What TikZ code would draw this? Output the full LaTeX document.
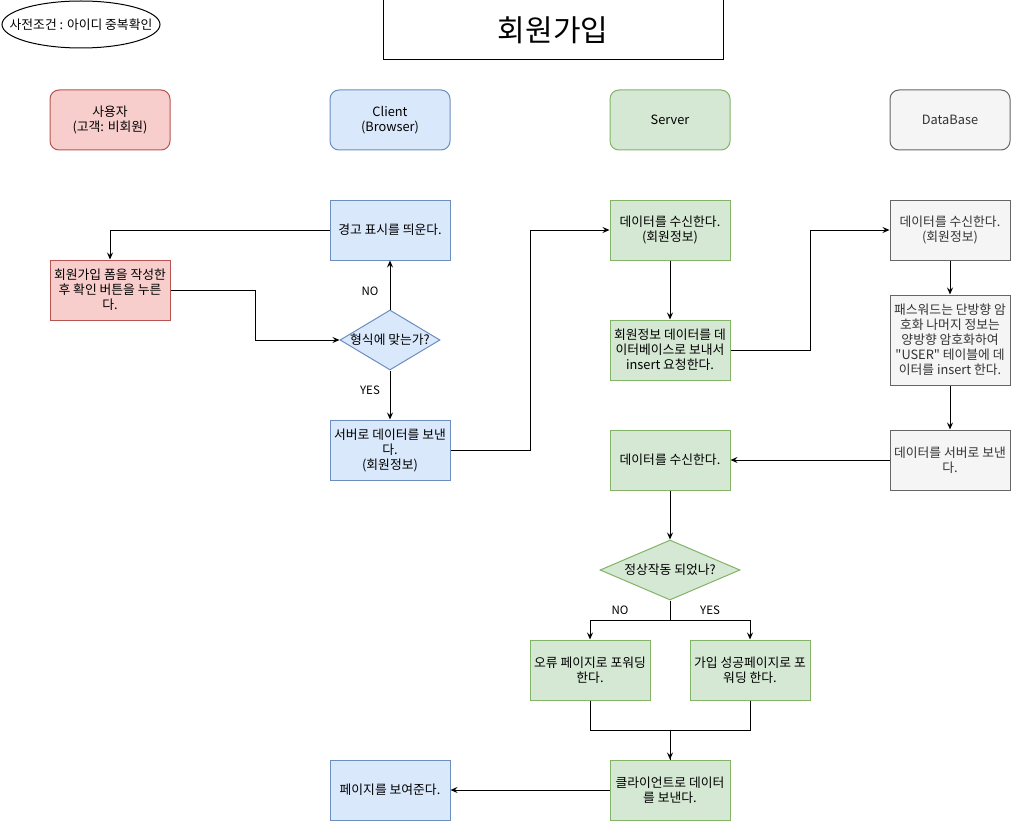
\documentclass[tikz,border=0pt]{standalone}
\usepackage{fontspec}
\setmainfont{Noto Sans CJK KR}[Ligatures=TeXOff]
\usetikzlibrary{shapes.geometric,arrows.meta}
\definecolor{redfill}{HTML}{F8CECC}
\definecolor{redline}{HTML}{B85450}
\definecolor{bluefill}{HTML}{DAE8FC}
\definecolor{blueline}{HTML}{6C8EBF}
\definecolor{greenfill}{HTML}{D5E8D4}
\definecolor{greenline}{HTML}{82B366}
\definecolor{grayfill}{HTML}{F5F5F5}
\definecolor{grayline}{HTML}{666666}
\definecolor{graytext}{HTML}{333333}
\begin{document}
\begin{tikzpicture}[x=1pt,y=-1pt,
  every node/.style={font=\fontsize{12.8}{15}\selectfont, align=center, inner sep=0pt},
  box/.style={draw, line width=1pt, minimum width=120pt, minimum height=60pt},
  lane/.style={box, rounded corners=9pt},
  redbox/.style={fill=redfill, draw=redline},
  bluebox/.style={fill=bluefill, draw=blueline},
  greenbox/.style={fill=greenfill, draw=greenline},
  graybox/.style={fill=grayfill, draw=grayline, text=graytext},
  decision/.style={diamond, draw, line width=1pt, aspect=1.6},
  link/.style={line width=1pt, -{Stealth[length=7pt,width=6pt,inset=2.5pt]}},
  plain/.style={line width=1pt},
  edgelabel/.style={font=\fontsize{11.5}{13}\selectfont}
]
\useasboundingbox (0,0) rectangle (1011,821);

% precondition and title
\node[draw, ellipse, line width=1pt, minimum width=158pt, minimum height=47pt] (pre) at (81,24.5) {};
\node at (pre) {사전조건 : 아이디 중복확인};
\node[draw, line width=1pt, minimum width=340pt, minimum height=60pt, font=\fontsize{30}{34}\selectfont] (title) at (553,30) {회원가입};

% swimlane headers
\node[lane, redbox]   (user)   at (110,120) {사용자\\(고객: 비회원)};
\node[lane, bluebox]  (client) at (390,120) {Client\\(Browser)};
\node[lane, greenbox] (server) at (670,120) {Server};
\node[lane, graybox]  (db)     at (950,120) {DataBase};

% user / client steps
\node[box, bluebox] (warn) at (390,230) {경고 표시를 띄운다.};
\node[box, redbox]  (form) at (110,290) {회원가입 폼을 작성한\\후 확인 버튼을 누른\\다.};
\node[decision, bluebox, minimum width=100pt, minimum height=60pt] (chk) at (390,340) {};
\node at (chk) {형식에 맞는가?};
\node[box, bluebox] (send) at (390,450) {서버로 데이터를 보낸\\다.\\(회원정보)};
\node[box, bluebox] (show) at (390,790) {페이지를 보여준다.};

% server steps
\node[box, greenbox] (srecv)  at (670,230) {데이터를 수신한다.\\(회원정보)};
\node[box, greenbox] (sreq)   at (670,350) {회원정보 데이터를 데\\이터베이스로 보내서\\insert 요청한다.};
\node[box, greenbox] (srecv2) at (670,460) {데이터를 수신한다.};
\node[decision, greenbox, minimum width=140pt, minimum height=60pt] (ok) at (670,570) {};
\node at (ok) {정상작동 되었나?};
\node[box, greenbox] (err)  at (590,670) {오류 페이지로 포워딩\\한다.};
\node[box, greenbox] (succ) at (750,670) {가입 성공페이지로 포\\워딩 한다.};
\node[box, greenbox] (toclient) at (670,790) {클라이언트로 데이터\\를 보낸다.};

% database steps
\node[box, graybox] (drecv) at (950,230) {데이터를 수신한다.\\(회원정보)};
\node[box, graybox, minimum height=90pt] (denc) at (950,340) {패스워드는 단방향 암\\호화 나머지 정보는\\양방향 암호화하여\\"USER" 테이블에 데\\이터를 insert 한다.};
\node[box, graybox] (dsend) at (950,460) {데이터를 서버로 보낸\\다.};

% connectors
\draw[link] (warn.west) -| (form.north);
\draw[link] (form.east) -- ++(85,0) |- (chk.west);
\draw[link] (chk.north) -- (warn.south) node[edgelabel, pos=0.38, xshift=-20pt] {NO};
\draw[link] (chk.south) -- (send.north) node[edgelabel, pos=0.4, xshift=-20pt] {YES};
\draw[link] (send.east) -- ++(80,0) |- (srecv.west);
\draw[link] (srecv.south) -- (sreq.north);
\draw[link] (sreq.east) -- ++(80,0) |- (drecv.west);
\draw[link] (drecv.south) -- (denc.north);
\draw[link] (denc.south) -- (dsend.north);
\draw[link] (dsend.west) -- (srecv2.east);
\draw[link] (srecv2.south) -- (ok.north);
\draw[link] (ok.south) -- ++(0,20) coordinate (split) -| (err.north);
\draw[link] (split) -| (succ.north);
\node[edgelabel] (nolbl) at (620,610) {NO};
\node[edgelabel] (yeslbl) at (710,610) {YES};
\draw[link] (err.south) -- ++(0,30) -| (toclient.north);
\draw[plain] (succ.south) -- ++(0,30) -| (toclient.north);
\draw[link] (toclient.west) -- (show.east);
\end{tikzpicture}
\end{document}
